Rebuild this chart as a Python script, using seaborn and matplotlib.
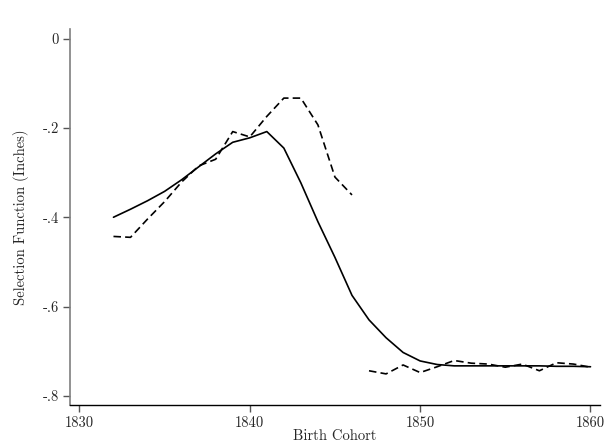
import numpy as np
import pandas as pd
import matplotlib
matplotlib.use("Agg")
import matplotlib.pyplot as plt
import seaborn as sns

# %% DATA
years_smooth = list(range(1832, 1861))
smooth = [-0.400, -0.382, -0.363, -0.342, -0.316, -0.287, -0.258, -0.232, -0.222, -0.208,
          -0.245, -0.323, -0.410, -0.490, -0.575, -0.630, -0.670, -0.703, -0.722, -0.730,
          -0.733, -0.733, -0.733, -0.733, -0.733, -0.733, -0.734, -0.734, -0.735]

years_early = list(range(1832, 1847))
raw_early = [-0.443, -0.445, -0.404, -0.365, -0.321, -0.285, -0.270, -0.208, -0.220, -0.174,
             -0.133, -0.133, -0.193, -0.310, -0.350]

years_late = list(range(1847, 1861))
raw_late = [-0.744, -0.751, -0.731, -0.748, -0.735, -0.721, -0.727, -0.729, -0.736, -0.729,
            -0.744, -0.726, -0.729, -0.736]

xticks = [1830, 1840, 1850, 1860]
yticks = [0, -0.2, -0.4, -0.6, -0.8]
ytick_labels = ["0", "-.2", "-.4", "-.6", "-.8"]

# %% STYLE
sns.set_style("white")
plt.rcParams["font.family"] = ["cmr10", "DejaVu Serif"]
plt.rcParams["axes.formatter.use_mathtext"] = True

fig = plt.figure(figsize=(6.09, 4.45), dpi=100)
ax = fig.add_axes([0.115, 0.09, 0.87, 0.845])

df_s = pd.DataFrame({"year": years_smooth, "val": smooth})
df_e = pd.DataFrame({"year": years_early, "val": raw_early})
df_l = pd.DataFrame({"year": years_late, "val": raw_late})

sns.lineplot(data=df_s, x="year", y="val", color="black", lw=1.2, ax=ax)
for d in (df_e, df_l):
    sns.lineplot(data=d, x="year", y="val", color="black", lw=1.2, ax=ax,
                 dashes=False, linestyle=(0, (4.5, 2.5)))

ax.set_xlim(1829.45, 1860.55)
ax.set_ylim(-0.8206, 0.022)
ax.set_xticks(xticks)
ax.set_xticklabels([str(t) for t in xticks], fontsize=10.5)
ax.set_yticks(yticks)
ax.set_yticklabels(ytick_labels, fontsize=10.5)

ax.set_xlabel("Birth Cohort", fontsize=10.5, labelpad=0)
ax.set_ylabel("Selection Function (Inches)", fontsize=10.5, labelpad=10)

for s in ("top", "right"):
    ax.spines[s].set_visible(False)
ax.spines["left"].set_color("#7f7f7f")
ax.spines["left"].set_linewidth(1.2)
ax.spines["bottom"].set_color("black")
ax.spines["bottom"].set_linewidth(1.0)
ax.tick_params(axis="y", which="major", left=True, length=5, width=1, color="#555555", pad=3)
ax.tick_params(axis="x", which="major", bottom=True, length=5, width=1, color="#555555", pad=3)

fig.savefig("out.png", dpi=100)
